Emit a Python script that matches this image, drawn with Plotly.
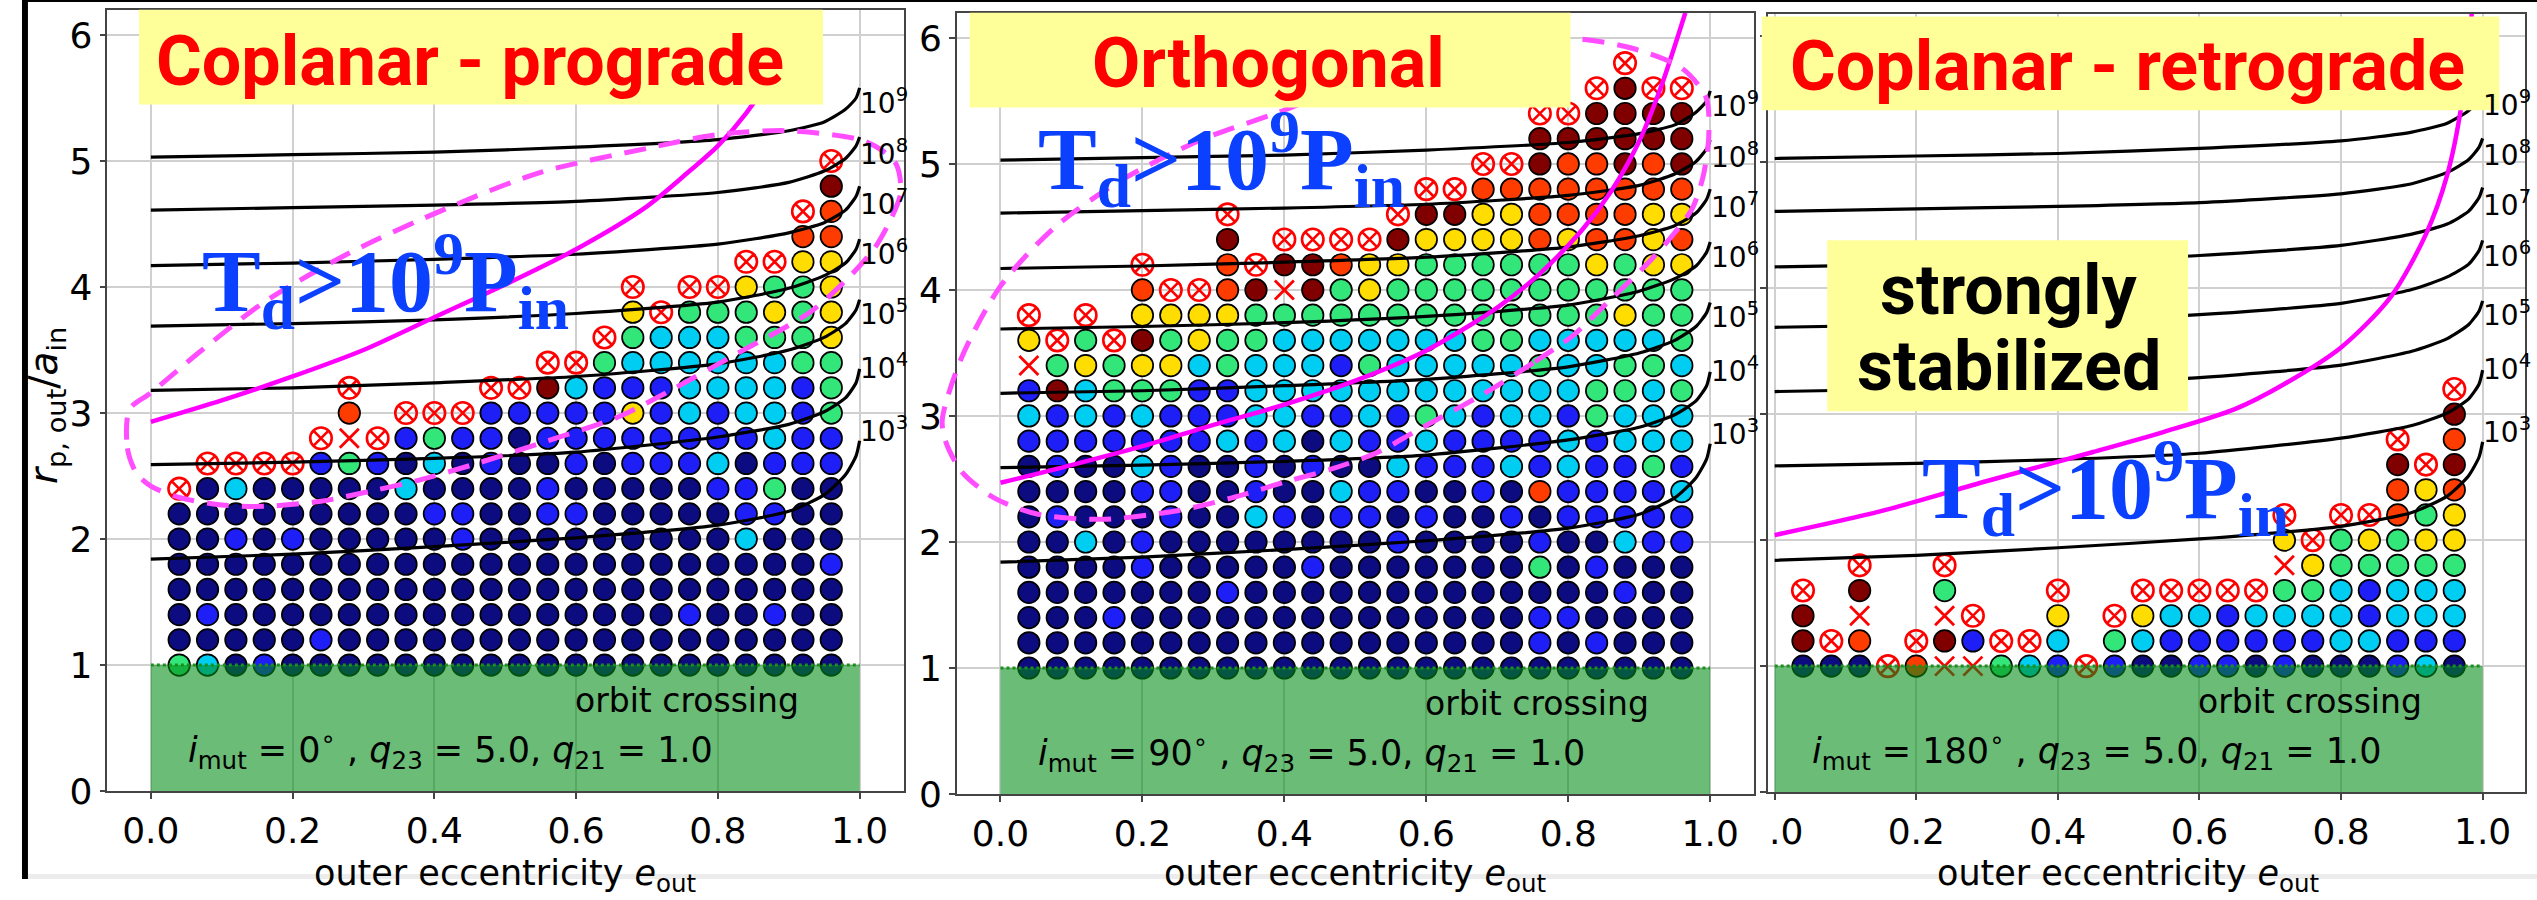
import plotly.graph_objects as go

W, H = 2537, 900

# ---------------- data ----------------
e_grid = [0.04, 0.08, 0.12, 0.16, 0.20, 0.24, 0.28, 0.32, 0.36, 0.40, 0.44, 0.48,
          0.52, 0.56, 0.60, 0.64, 0.68, 0.72, 0.76, 0.80, 0.84, 0.88, 0.92, 0.96]
r_grid = [1.0, 1.2, 1.4, 1.6, 1.8, 2.0, 2.2, 2.4, 2.6, 2.8, 3.0, 3.2, 3.4,
          3.6, 3.8, 4.0, 4.2, 4.4, 4.6, 4.8, 5.0, 5.2, 5.4, 5.6, 5.8]

# codes: N navy, B blue, C cyan, G green, Y yellow, O orange, R dark red,
#        S stable (circle-x), X red cross, . nothing ; row i <-> r_grid[i]
prograde_rows = [
    "GCNBNNNNNNNNNNNNNNNNNNNN",
    "NNNNNBNNNNNNNNNNNNNNNNNN",
    "NBNNNNNNNNNNNNNNNNBNNBNN",
    "NNNNNNNNNNNNNNNNNNNNNNNN",
    "NNNNNNNNNNNNNNNNNNNNNNNB",
    "NNBNBNNNNNBNNNNNNNNNCNNN",
    "NNNNNNNNNBBNNBBNNNNNBBNN",
    "SNCNNNNNCNNNNBNNNNNBBGNN",
    ".SSSSBGBNCNBNNBNBBBCNBBB",
    ".....SXSBGBBNBBBBBBBBCBB",
    "......O.SSSBBBBBYBCBCCBG",
    "......S....SSRCBBBCCCCBG",
    ".............SSGCCCCCCGG",
    "...............SGCCCGGGY",
    "................YSGGGYGY",
    "................S.SSYGGY",
    "....................SSYY",
    "......................OO",
    "......................SO",
    ".......................R",
    ".......................S",
]
orthogonal_rows = [
    "NNNNNNNNNNNNNNNNNNNNNNNN",
    "NNNNNNNNNNNNNNNNNNBNBNNN",
    "NNNBNNNNNNNNNNNNNNBBNNNN",
    "NNNNNNNBNNNNNNNNNNNNNBNN",
    "NNNNBNNNNNBNNNNNNNGNBNNN",
    "NNCNBNNNNNNNNBNNNNBNNCBB",
    "NBNNNBNNCBNBBNBNNBNBBBBB",
    "NNNNBBNNBNNCBBNNBNOBBBBC",
    "NBNNCBNNBNBNNCBBBCBCBBGB",
    "BBBBBBBCBCNCBBCBBBBCBCCC",
    "CBCBCBBBCCBBCBGCBCCBGCCC",
    "BRCGGGBBCCCCCCCCCCCCGGCG",
    "XGYGYYCGCCCBGCCCCCGCCGGC",
    "YSGSRGYGGCCCCCCCGGCCCCCG",
    "S.S.YYYYGGGGGGGGGGGGGYGG",
    "....OSSORXRGYGGGGGGGGGGG",
    "....S..OSRROYYGGGGGGYGYY",
    ".......R.SSSSRYYYYOYOOYO",
    ".......S.....SRRYYOOOOYY",
    "..............SSOOOOOOOO",
    "................SSROOROR",
    "..................RRRRRR",
    "..................SSRRRR",
    "....................SRSS",
    ".....................S..",
]
retrograde_rows = [
    "NNNSOXXGCBSBNNBBNBNNNBCN",
    "RSO.SRBSSC.GCBBBBBBCCBBB",
    "R.X..XS..Y.SYCCBCCCCBCCC",
    "S.R..G...S..SSSSSGGCBCCC",
    "..S..S...........XYGGGGG",
    ".................YSGYGYY",
    ".................S.SSOGY",
    ".....................OYO",
    ".....................RSR",
    ".....................S.O",
    ".......................R",
    ".......................S",
]

# constant dissolution-time curves (T_d = 10^3 ... 10^9 P_in)
curve_e = [0.0, 0.2, 0.4, 0.6, 0.8, 0.9, 0.95, 0.98, 0.995, 1.0]
td_1e3 = [1.84, 1.88, 1.94, 2.01, 2.11, 2.22, 2.35, 2.51, 2.66, 2.78]
td_1e4 = [2.59, 2.61, 2.64, 2.69, 2.81, 2.91, 3.01, 3.12, 3.24, 3.35]
td_1e5 = [3.18, 3.20, 3.24, 3.29, 3.39, 3.50, 3.60, 3.71, 3.82, 3.90]
td_1e6 = [3.69, 3.71, 3.74, 3.79, 3.88, 3.99, 4.09, 4.19, 4.30, 4.38]
td_1e7 = [4.17, 4.19, 4.22, 4.26, 4.34, 4.43, 4.51, 4.61, 4.72, 4.80]
td_1e8 = [4.61, 4.63, 4.65, 4.68, 4.75, 4.83, 4.92, 5.02, 5.12, 5.19]
td_1e9 = [5.03, 5.05, 5.07, 5.11, 5.17, 5.24, 5.31, 5.41, 5.50, 5.58]
td_curves = [td_1e3, td_1e4, td_1e5, td_1e6, td_1e7, td_1e8, td_1e9]
td_labels = ["10<sup>3</sup>", "10<sup>4</sup>", "10<sup>5</sup>", "10<sup>6</sup>",
             "10<sup>7</sup>", "10<sup>8</sup>", "10<sup>9</sup>"]
td_label_r = [2.87, 3.37, 3.80, 4.27, 4.67, 5.07, 5.47]

# magenta stability boundaries
mag_pro_e = [0.0, 0.1, 0.2, 0.3, 0.4, 0.5, 0.6, 0.7, 0.76, 0.8, 0.84, 0.88, 0.92]
mag_pro_r = [2.93, 3.10, 3.29, 3.50, 3.76, 4.02, 4.30, 4.64, 4.92, 5.12, 5.38, 5.72, 6.2]
mag_orth_e = [0.0, 0.1, 0.2, 0.3, 0.4, 0.5, 0.6, 0.7, 0.76, 0.82, 0.86, 0.9, 0.93, 0.965]
mag_orth_r = [2.47, 2.61, 2.76, 2.93, 3.09, 3.28, 3.52, 3.86, 4.13, 4.48, 4.78, 5.18, 5.6, 6.2]
mag_retro_e = [0.0, 0.15, 0.3, 0.45, 0.55, 0.65, 0.72, 0.8, 0.87, 0.92, 0.95, 0.97, 0.985]
mag_retro_r = [2.04, 2.23, 2.47, 2.70, 2.86, 3.04, 3.24, 3.53, 3.93, 4.43, 4.9, 5.45, 6.2]

# dashed regions
ell_pro_e = [-0.03, -0.033, -0.02, 0.0, 0.04, 0.10, 0.16, 0.24, 0.31, 0.38, 0.46, 0.56,
             0.66, 0.73, 0.82, 0.93, 0.98, 1.02, 1.045, 1.058, 1.052, 1.03, 1.0, 0.9,
             0.8, 0.7, 0.55, 0.42, 0.28, 0.16, 0.07, 0.0, -0.03]
ell_pro_r = [3.03, 2.72, 2.52, 2.42, 2.33, 2.27, 2.26, 2.30, 2.38, 2.47, 2.60, 2.78,
             2.97, 3.17, 3.45, 3.80, 4.05, 4.30, 4.55, 4.75, 4.97, 5.09, 5.17, 5.24,
             5.21, 5.10, 4.91, 4.63, 4.27, 3.88, 3.49, 3.16, 3.03]
ell_orth_e = [0.679, 0.753, 0.807, 0.857, 0.91, 0.948, 0.975, 0.99, 0.998, 0.994,
              0.96, 0.895, 0.818, 0.7, 0.6, 0.5, 0.397, 0.282, 0.167, 0.075,
              0.0, -0.055, -0.082, -0.078, -0.055, -0.009, 0.053, 0.144, 0.251, 0.326,
              0.403, 0.467, 0.531, 0.582, 0.621, 0.679]
ell_orth_r = [3.17, 3.43, 3.64, 3.91, 4.20, 4.44, 4.65, 4.90, 5.22, 5.53,
              5.76, 5.91, 5.99, 5.98, 5.85, 5.65, 5.42, 5.19, 4.86, 4.49,
              4.03, 3.46, 2.97, 2.81, 2.56, 2.35, 2.22, 2.18, 2.25, 2.35,
              2.48, 2.58, 2.71, 2.87, 2.99, 3.17]

titles = ["Coplanar - prograde", "Orthogonal", "Coplanar - retrograde"]
imut_values = ["0", "90", "180"]
x_ticks = [0.0, 0.2, 0.4, 0.6, 0.8, 1.0]
y_ticks = [0, 1, 2, 3, 4, 5, 6]

# ---------------- styling / layout helpers ----------------
code_colors = {"N": "#0c0c80", "B": "#1e1ef6", "C": "#00cdf2", "G": "#33e67a",
               "Y": "#ffdd00", "O": "#ff3c00", "R": "#800000"}


def pxx(v):
    return v / W


def pxy(v):
    return 1 - v / H


panels = [
    dict(rows=prograde_rows, xa="x", ya="y", dom_x=(86, 890), dom_y=(10, 810),
         xr=[-0.0615, 1.063], yr=[0, 6.2], mag=(mag_pro_e, mag_pro_r),
         box=(118, 808, 10, 107), title_c=(452, 62), td_pos=(0.07, 4.05)),
    dict(rows=orthogonal_rows, xa="x2", ya="y2", dom_x=(943, 1747), dom_y=(13, 813),
         xr=[-0.0615, 1.0615], yr=[0, 6.2], mag=(mag_orth_e, mag_orth_r),
         box=(956, 1562, 13, 110), title_c=(1257, 64), td_pos=(0.05, 5.04)),
    dict(rows=retrograde_rows, xa="x3", ya="y3", dom_x=(1761, 2525), dom_y=(14, 811),
         xr=[-0.0098, 1.06], yr=[0, 6.18], mag=(mag_retro_e, mag_retro_r),
         box=(1755, 2499, 17, 113), title_c=(2124, 68), td_pos=(0.205, 2.42)),
]

fig = go.Figure()
shapes = []
annotations = []
FONT = "DejaVu Sans"

for k, p in enumerate(panels):
    xa, ya = p["xa"], p["ya"]
    # grid markers
    for code in "NBCGYOR":
        xs, ys = [], []
        for i, row in enumerate(p["rows"]):
            row = row.ljust(24, ".")[:24]
            for j, ch in enumerate(row):
                if ch == code:
                    xs.append(e_grid[j])
                    ys.append(r_grid[i])
        if xs:
            fig.add_trace(go.Scatter(
                x=xs, y=ys, xaxis=xa, yaxis=ya, mode="markers", hoverinfo="skip",
                cliponaxis=False,
                marker=dict(size=21.5, color=code_colors[code],
                            line=dict(color="black", width=1.7))))
    for code, sym, size, lw in (("S", "circle-x-open", 21.5, 2.6), ("X", "x-thin-open", 19, 2.8)):
        xs, ys = [], []
        for i, row in enumerate(p["rows"]):
            row = row.ljust(24, ".")[:24]
            for j, ch in enumerate(row):
                if ch == code:
                    xs.append(e_grid[j])
                    ys.append(r_grid[i])
        if xs:
            fig.add_trace(go.Scatter(
                x=xs, y=ys, xaxis=xa, yaxis=ya, mode="markers", hoverinfo="skip",
                cliponaxis=False,
                marker=dict(symbol=sym, size=size, color="#ff0000",
                            line=dict(width=lw))))
    # T_d curves
    for c in td_curves:
        fig.add_trace(go.Scatter(
            x=curve_e, y=c, xaxis=xa, yaxis=ya, mode="lines", hoverinfo="skip",
            line=dict(color="black", width=3.2, shape="spline", smoothing=0.6)))
    for lab, lr in zip(td_labels, td_label_r):
        annotations.append(dict(x=0.998, y=lr, xref=xa, yref=ya, text=lab,
                                showarrow=False, xanchor="left", yanchor="middle",
                                font=dict(family=FONT, size=28, color="black")))
    # magenta boundary
    me, mr = p["mag"]
    fig.add_trace(go.Scatter(
        x=me, y=mr, xaxis=xa, yaxis=ya, mode="lines", hoverinfo="skip",
        line=dict(color="#ff00ff", width=4.5, shape="spline", smoothing=0.8)))

    # green orbit crossing region
    shapes.append(dict(type="rect", xref=xa, yref=ya, x0=0, x1=1, y0=0, y1=1,
                       fillcolor="rgba(0,140,20,0.58)", line=dict(width=0), layer="above"))
    shapes.append(dict(type="line", xref=xa, yref=ya, x0=0, x1=1, y0=1, y1=1,
                       line=dict(color="#1b8f1b", width=3, dash="dot"), layer="above"))
    annotations.append(dict(x=0.595, y=0.72, xref=xa, yref=ya, text="orbit crossing",
                            showarrow=False, xanchor="left", yanchor="middle",
                            font=dict(family=FONT, size=33, color="black")))
    annotations.append(dict(
        x=0.05, y=0.33, xref=xa, yref=ya, showarrow=False, xanchor="left", yanchor="middle",
        text=("<i>i</i><sub>mut</sub> = " + imut_values[k] + "<sup>∘</sup> , <i>q</i><sub>23</sub> = 5.0, "
              "<i>q</i><sub>21</sub> = 1.0"),
        font=dict(family=FONT, size=35, color="black")))
    # x-axis title
    annotations.append(dict(x=0.5, y=pxy(896), xref=xa, yref="paper", showarrow=False,
                            xanchor="center", yanchor="middle",
                            text="outer eccentricity <i>e</i><sub>out</sub>",
                            font=dict(family=FONT, size=35, color="black")))
    # yellow title box
    bx0, bx1, by0, by1 = p["box"]
    shapes.append(dict(type="rect", xref="paper", yref="paper", x0=pxx(bx0), x1=pxx(bx1),
                       y0=pxy(by1), y1=pxy(by0), fillcolor="#ffff99",
                       line=dict(width=0), layer="above"))
    annotations.append(dict(x=pxx(p["title_c"][0]), y=pxy(p["title_c"][1]), xref="paper",
                            yref="paper", showarrow=False, xanchor="center", yanchor="middle",
                            text="<b>" + titles[k] + "</b>",
                            font=dict(family="Roboto", size=70, color="#ff0000")))
    # T_d > 10^9 P_in
    annotations.append(dict(x=p["td_pos"][0], y=p["td_pos"][1], xref=xa, yref=ya,
                            showarrow=False, xanchor="left", yanchor="middle",
                            text="<b>T<sub>d</sub>&gt;10<sup>9</sup>P<sub>in</sub></b>",
                            font=dict(family="Liberation Serif", size=88, color="#0b40ff")))

# dashed regions: prograde on panel 1, orthogonal on a wider invisible overlay of panel 2
fig.add_trace(go.Scatter(x=ell_pro_e, y=ell_pro_r, xaxis="x", yaxis="y", mode="lines",
                         hoverinfo="skip",
                         line=dict(color="#ff4dff", width=5, dash="22px,13px",
                                   shape="spline", smoothing=0.8)))
fig.add_trace(go.Scatter(x=ell_orth_e, y=ell_orth_r, xaxis="x4", yaxis="y4", mode="lines",
                         hoverinfo="skip",
                         line=dict(color="#ff4dff", width=5, dash="22px,13px",
                                   shape="spline", smoothing=0.8)))

# "strongly stabilized" box
shapes.append(dict(type="rect", xref="paper", yref="paper", x0=pxx(1821), x1=pxx(2185),
                   y0=pxy(421), y1=pxy(246), fillcolor="#ffff99", line=dict(width=0),
                   layer="above"))
annotations.append(dict(x=pxx(2004), y=pxy(297), xref="paper", yref="paper", showarrow=False,
                        text="<b>strongly</b>", xanchor="center", yanchor="middle",
                        font=dict(family="Roboto", size=70, color="black")))
annotations.append(dict(x=pxx(2004), y=pxy(375), xref="paper", yref="paper", showarrow=False,
                        text="<b>stabilized</b>", xanchor="center", yanchor="middle",
                        font=dict(family="Roboto", size=70, color="black")))

# y-axis title
annotations.append(dict(x=pxx(25), y=pxy(415), xref="paper", yref="paper", showarrow=False,
                        textangle=-90, xanchor="center", yanchor="middle",
                        text="<i>r</i><sub>p, out</sub>/<i>a</i><sub>in</sub>",
                        font=dict(family=FONT, size=39, color="black")))

# slide edges / crop of the third panel's first tick label
shapes.append(dict(type="rect", xref="paper", yref="paper", x0=pxx(1733), x1=pxx(1764),
                   y0=pxy(866), y1=pxy(817), fillcolor="white", line=dict(width=0),
                   layer="above"))
shapes.append(dict(type="rect", xref="paper", yref="paper", x0=0, x1=1, y0=pxy(2), y1=1,
                   fillcolor="black", line=dict(width=0), layer="above"))
shapes.append(dict(type="rect", xref="paper", yref="paper", x0=0, x1=pxx(6), y0=0, y1=1,
                   fillcolor="black", line=dict(width=0), layer="above"))
shapes.append(dict(type="rect", xref="paper", yref="paper", x0=pxx(6), x1=1, y0=0, y1=pxy(895),
                   fillcolor="#ececec", line=dict(width=0), layer="below"))

layout = dict(width=W, height=H, margin=dict(l=0, r=0, t=0, b=0),
              paper_bgcolor="white", plot_bgcolor="rgba(0,0,0,0)", showlegend=False,
              shapes=shapes, annotations=annotations)

axis_common = dict(showline=True, mirror=True, linecolor="#444", linewidth=1.5,
                   showgrid=True, gridcolor="#d0d0d0", gridwidth=1.5, zeroline=False,
                   ticks="outside", ticklen=6, tickwidth=1.5, tickcolor="#444",
                   tickfont=dict(family=FONT, size=36, color="black"))

for k, p in enumerate(panels):
    sx = "" if k == 0 else str(k + 1)
    layout["xaxis" + sx] = dict(axis_common, domain=[pxx(p["dom_x"][0]), pxx(p["dom_x"][1])],
                                range=p["xr"], anchor=p["ya"], tickvals=x_ticks,
                                tickformat=".1f", ticklabelstandoff=1)
    layout["yaxis" + sx] = dict(axis_common, domain=[pxy(p["dom_y"][1]), pxy(p["dom_y"][0])],
                                range=p["yr"], anchor=p["xa"], tickvals=y_ticks,
                                showticklabels=(k < 2))

ext = 25
layout["xaxis4"] = dict(visible=False, domain=[pxx(943 - ext), pxx(1747)],
                        range=[-0.0615 - ext / 716.0, 1.0615], anchor="y4")
layout["yaxis4"] = dict(visible=False, domain=[pxy(813), pxy(13)], range=[0, 6.2], anchor="x4")

fig.update_layout(**layout)

fig.write_html("out.html", config={"displayModeBar": False},
               post_script="document.body.style.margin='0px';")
